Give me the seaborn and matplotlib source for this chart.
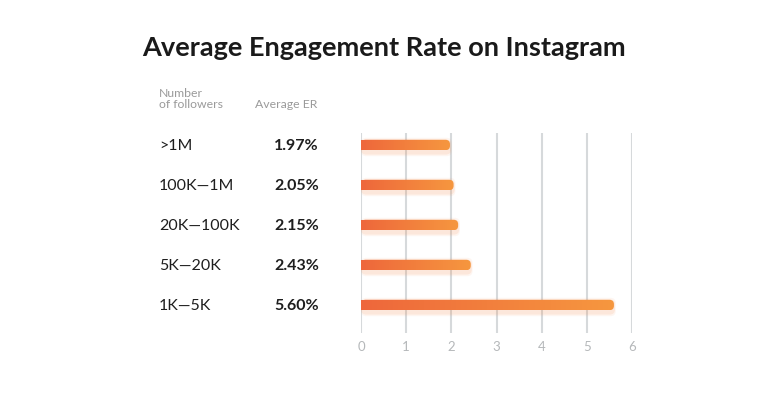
import numpy as np
import pandas as pd
import seaborn as sns
import matplotlib.pyplot as plt
from matplotlib.patches import FancyBboxPatch
from matplotlib.colors import LinearSegmentedColormap
from matplotlib.transforms import blended_transform_factory

# data
followers = [">1M", "100K\u20141M", "20K\u2014100K", "5K\u201420K", "1K\u20145K"]
avg_er = [1.97, 2.05, 2.15, 2.43, 5.60]
er_labels = ["1.97%", "2.05%", "2.15%", "2.43%", "5.60%"]
x_ticks = [0, 1, 2, 3, 4, 5, 6]

df = pd.DataFrame({"followers": followers, "er": avg_er})

sns.set_style("white")
plt.rcParams["font.family"] = ["Lato", "DejaVu Sans"]

fig = plt.figure(figsize=(7.68, 3.98), dpi=100)
ax = fig.add_axes([361 / 768, 1 - 333 / 398, 271 / 768, 200 / 398])

sns.barplot(data=df, x="er", y="followers", orient="h", ax=ax,
            color="#F07A3D", width=0.26, errorbar=None)

# replace flat bars with gradient rounded bars
cmap = LinearSegmentedColormap.from_list("er", ["#EE673B", "#F6973F"])
grad = np.linspace(0, 1, 256).reshape(1, -1)
for p in list(ax.patches):
    x0, y0 = p.get_x(), p.get_y()
    w, h = p.get_width(), p.get_height()
    p.set_visible(False)
    # soft glow under the bar
    for k, a in [(0.10, 0.08), (0.06, 0.12)]:
        glow = FancyBboxPatch((x0, y0 - k + 0.05), w + k * 0.4, h + 2 * k,
                              boxstyle="round,pad=0,rounding_size=0.12",
                              mutation_aspect=1.1, fc="#F58A4A", ec="none",
                              alpha=a, zorder=2)
        ax.add_patch(glow)
    box = FancyBboxPatch((x0, y0), w, h,
                         boxstyle="round,pad=0,rounding_size=0.1",
                         mutation_aspect=1.1, fc="none", ec="none", zorder=3)
    ax.add_patch(box)
    im = ax.imshow(grad, cmap=cmap, aspect="auto",
                   extent=(x0, x0 + w, y0 + h, y0), zorder=3)
    im.set_clip_path(box)
    # square left end
    ax.add_patch(plt.Rectangle((x0, y0), 0.1, h, fc="#EE673B", ec="none", zorder=3))

ax.set_xlim(0, 6)
ax.set_ylim(4.7, -0.3)

ax.set_xticks(x_ticks)
ax.xaxis.grid(True, color="#D6D9DB", linewidth=1.5)
ax.set_axisbelow(True)
ax.tick_params(axis="x", length=0, pad=6, labelsize=9.5, labelcolor="#B5B8BA")
ax.set_yticks([])
ax.set_xlabel("")
ax.set_ylabel("")
sns.despine(ax=ax, left=True, bottom=True)

# text columns on the left
tr = blended_transform_factory(fig.transFigure, ax.transData)
for i, (name, lab) in enumerate(zip(followers, er_labels)):
    ax.text(159 / 768, i + 0.03, name, transform=tr, ha="left", va="center",
            fontsize=11.5, color="#1E1E1E")
    ax.text(319 / 768, i + 0.03, lab, transform=tr, ha="right", va="center",
            fontsize=11.5, fontweight="bold", color="#1E1E1E")

fig.text(159 / 768, 1 - 99 / 398, "Number\nof followers", ha="left", va="center",
         fontsize=8.8, color="#9A9A9A", linespacing=1.0)
fig.text(255 / 768, 1 - 104 / 398, "Average ER", ha="left", va="center",
         fontsize=8.8, color="#9A9A9A")

fig.text(0.5, 1 - 48 / 398, "Average Engagement Rate on Instagram",
         ha="center", va="center", fontsize=19.5, fontweight="bold", color="#1A1A1A")

fig.savefig("out.png", dpi=100)
